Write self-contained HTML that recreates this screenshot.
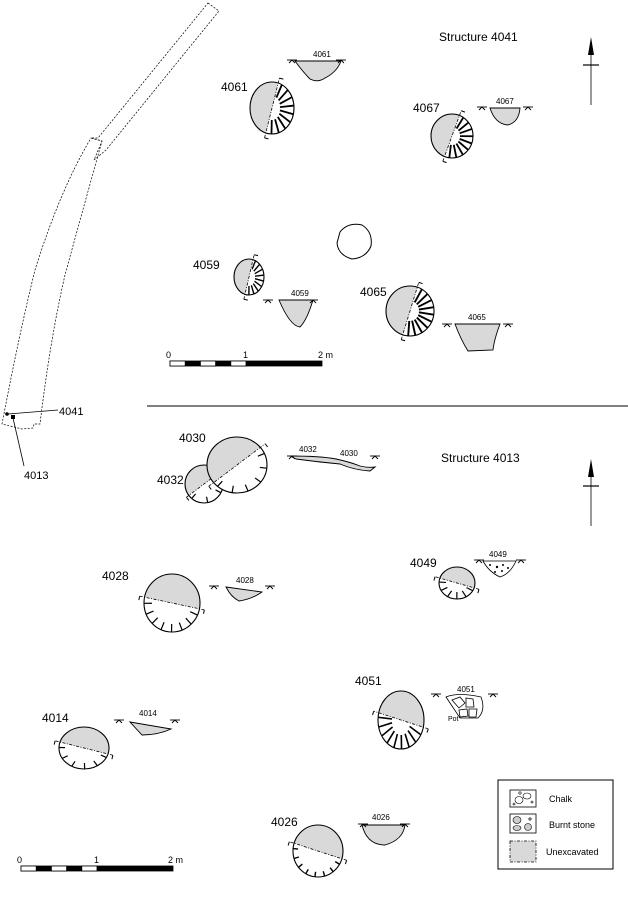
<!DOCTYPE html>
<html><head><meta charset="utf-8"><style>
html,body{margin:0;padding:0;background:#fff;}
svg{display:block;}
text{font-family:"Liberation Sans",Arial,sans-serif;fill:#000;}
</style></head><body>
<svg id="s" xmlns="http://www.w3.org/2000/svg" width="628" height="897" viewBox="0 0 628 897">
<rect width="628" height="897" fill="#fff"/>
<g fill="none" stroke="#000" stroke-width="0.7" stroke-dasharray="2,1.5">
<path d="M208,3 L219,11 L106,150 L94,160 L102,141 L91,138 L98,138 Z"/>
<path d="M91,138 L102,141 Q80,220 65,275 Q50,340 40,424 L34,424 L33,428 L22,429 L2,424 Q20,330 35,270 Q60,190 91,138 Z"/>
</g>
<circle cx="7" cy="414" r="1.8" fill="#000"/>
<rect x="11" y="415" width="4" height="4" fill="#000"/>
<line x1="8" y1="414" x2="58" y2="410" stroke="#000" stroke-width="0.8"/>
<line x1="13" y1="418" x2="24" y2="466" stroke="#000" stroke-width="0.8"/>
<text x="59" y="415" font-size="11">4041</text>
<text x="24" y="479" font-size="11">4013</text>

<text x="439" y="41" font-size="12">Structure 4041</text>
<text x="441" y="462" font-size="12">Structure 4013</text>
<line x1="147" y1="406" x2="628" y2="406" stroke="#000" stroke-width="1"/>

<g stroke="#555" stroke-width="1.2">
<line x1="591" y1="55" x2="591" y2="105"/><line x1="583" y1="65" x2="599" y2="65" stroke="#000"/>
<line x1="591" y1="475" x2="591" y2="526"/><line x1="583" y1="486" x2="599" y2="486" stroke="#000"/>
</g>
<path d="M591,37 L594,55 L588,55 Z" fill="#000"/>
<path d="M591,459 L594,477 L588,477 Z" fill="#000"/>

<g stroke="#000" stroke-width="0.8">
<rect x="170" y="361" width="152" height="5" fill="#000"/>
<rect x="170" y="361" width="15.2" height="5" fill="#fff"/>
<rect x="200.4" y="361" width="15.2" height="5" fill="#fff"/>
<rect x="230.8" y="361" width="15.2" height="5" fill="#fff"/>
<rect x="21" y="866" width="152" height="5" fill="#000"/>
<rect x="21" y="866" width="15.2" height="5" fill="#fff"/>
<rect x="51.4" y="866" width="15.2" height="5" fill="#fff"/>
<rect x="81.8" y="866" width="15.2" height="5" fill="#fff"/>
</g>
<text x="166" y="358" font-size="9">0</text><text x="243" y="358" font-size="9">1</text><text x="318" y="358" font-size="9">2 m</text>
<text x="17" y="863" font-size="9">0</text><text x="94" y="863" font-size="9">1</text><text x="168" y="863" font-size="9">2 m</text>

<path d="M340,232 Q348,222 362,225 Q373,232 371,246 Q366,258 352,259 Q338,255 337,243 Z" fill="#fff" stroke="#000" stroke-width="1"/>

<g stroke="#000" stroke-width="0.9" fill="#d9d9d9">
<path d="M295,61 L341,61 Q337,72 325,78 Q318,83 310,79 Q303,72 295,61 Z"/>
<path d="M490,108 L520,108 Q519,122 508,125 Q495,124 490,108 Z"/>
<path d="M279,300 L313,300 Q307,320 300,327 Q290,326 279,300 Z"/>
<path d="M455,324 L500,324 Q494,340 493,350 L468,351 Q461,340 455,324 Z"/>
<path d="M290,456 Q320,456 336,459 Q350,462 360,466 Q368,468 375,467 L370,471 Q354,470 340,464 Q318,462 296,459 Z"/>
<path d="M226,587 L262,592 Q252,599 239,601 Q231,597 226,587 Z"/>
<path d="M130,722 L171,729 Q158,735 142,735 Z"/>
<path d="M362,825 L405,825 Q403,840 385,845 Q367,845 362,825 Z"/>
</g>
<g stroke="#000" stroke-width="0.8" fill="#fff">
<path d="M483,561 L516,561 Q510,574 500,577 Q489,572 483,561 Z"/>
<path d="M446,697 Q458,692 481,697 Q486,710 478,718 L460,718 Z"/>
<path d="M452,700 l8,-3 l5,6 l-6,5 Z M466,698 l7,1 l1,8 l-8,0 Z M459,710 l8,-1 l1,7 l-8,1 Z M469,709 l8,0 l-1,8 l-7,0 Z"/>
</g>
<g fill="#000"><circle cx="490" cy="565" r="1"/><circle cx="497" cy="567" r="1.2"/><circle cx="503" cy="565" r="1"/><circle cx="508" cy="568" r="1"/><circle cx="495" cy="572" r="1"/><circle cx="502" cy="571" r="1"/></g>
<g stroke="#000" stroke-width="0.9" fill="none" id="gm"></g>
<g font-size="8">
<text x="313" y="57">4061</text><text x="496" y="104">4067</text><text x="291" y="296">4059</text><text x="468" y="320">4065</text>
<text x="299" y="452">4032</text><text x="340" y="456">4030</text><text x="236" y="583">4028</text><text x="489" y="557">4049</text>
<text x="457" y="692">4051</text><text x="448" y="721" font-size="7">Pot</text><text x="139" y="716">4014</text><text x="372" y="820">4026</text>
</g>
<g font-size="12">
<text x="221" y="91">4061</text><text x="413" y="112">4067</text><text x="193" y="269">4059</text><text x="360" y="296">4065</text>
<text x="179" y="442">4030</text><text x="157" y="484">4032</text><text x="102" y="580">4028</text><text x="410" y="567">4049</text>
<text x="355" y="685">4051</text><text x="42" y="722">4014</text><text x="271" y="826">4026</text>
</g>
<g id="pits"></g>

<rect x="498" y="780" width="115" height="89" fill="#fff" stroke="#000" stroke-width="1"/>
<rect x="510" y="790" width="26" height="17" fill="#fff" stroke="#000" stroke-width="0.8"/>
<g fill="none" stroke="#000" stroke-width="0.6"><ellipse cx="519" cy="800" rx="4" ry="3.5"/><ellipse cx="527" cy="796" rx="4" ry="3"/><circle cx="520" cy="793" r="1.2"/><circle cx="514" cy="804" r="1"/><circle cx="532" cy="802" r="1"/></g>
<rect x="510" y="814" width="26" height="19" fill="#fff" stroke="#000" stroke-width="0.8"/>
<g fill="#ccc" stroke="#000" stroke-width="0.6"><ellipse cx="517" cy="820" rx="4" ry="3.5"/><ellipse cx="517" cy="828" rx="4" ry="2.5"/><ellipse cx="528" cy="827" rx="3.5" ry="3.5"/><circle cx="530" cy="819" r="1.2"/></g>
<rect x="510" y="841" width="26" height="21" fill="#d9d9d9" stroke="#000" stroke-width="0.8" stroke-dasharray="3,1.5,1,1.5"/>
<text x="549" y="802" font-size="9">Chalk</text><text x="549" y="828" font-size="9">Burnt stone</text><text x="546" y="855" font-size="9">Unexcavated</text>
</svg>
<script>
var NS="http://www.w3.org/2000/svg";
function el(p,n,a){var e=document.createElementNS(NS,n);for(var k in a)e.setAttribute(k,a[k]);p.appendChild(e);return e;}
var gm=document.getElementById("gm");
function ground(x1,x2,y){[x1,x2].forEach(function(x){el(gm,"line",{x1:x-5,y1:y,x2:x+5,y2:y});el(gm,"path",{d:"M"+(x-3)+","+(y+3)+" L"+x+","+y+" L"+(x+3)+","+(y+3)});});}
ground(292,341,60);ground(482,528,107);ground(268,313,300);ground(447,508,324);
ground(292,375,456);ground(214,270,586);ground(479,521,560);ground(436,493,694);
ground(119,175,720);ground(363,405,824);
var pg=document.getElementById("pits"),cid=0;
function pit(cx,cy,rx,ry,a,s,n,len,tw,ext){
 var r=a*Math.PI/180,ux=Math.cos(r),uy=Math.sin(r),gx=-uy*s,gy=ux*s;
 var g=el(pg,"g",{});
 var id="c"+(cid++);
 var cp=el(g,"clipPath",{id:id});
 var P=function(x,y){return x.toFixed(1)+","+y.toFixed(1);};
 el(cp,"polygon",{points:[P(cx+ux*200,cy+uy*200),P(cx-ux*200,cy-uy*200),P(cx-ux*200+gx*200,cy-uy*200+gy*200),P(cx+ux*200+gx*200,cy+uy*200+gy*200)].join(" ")});
 el(g,"ellipse",{cx:cx,cy:cy,rx:rx,ry:ry,fill:"#fff",stroke:"none"});
 el(g,"ellipse",{cx:cx,cy:cy,rx:rx,ry:ry,fill:"#d9d9d9","clip-path":"url(#"+id+")"});
 var wa=Math.atan2(-gy,-gx);
 for(var i=0;i<n;i++){var t=wa-1.35+2.7*i/(n-1);var ex=cx+rx*Math.cos(t),ey=cy+ry*Math.sin(t);var dx=cx-ex,dy=cy-ey,d=Math.hypot(dx,dy);
  el(g,"line",{x1:ex,y1:ey,x2:ex+dx/d*len,y2:ey+dy/d*len,stroke:"#000","stroke-width":tw});}
 el(g,"ellipse",{cx:cx,cy:cy,rx:rx,ry:ry,fill:"none",stroke:"#000","stroke-width":1.1});
 var L=Math.hypot(rx*ux,ry*uy)+ext;
 var x1=cx+ux*L,y1=cy+uy*L,x2=cx-ux*L,y2=cy-uy*L;
 el(g,"line",{x1:x1,y1:y1,x2:x2,y2:y2,stroke:"#000","stroke-width":0.8,"stroke-dasharray":"3,1.5,1,1.5"});
 [[x1,y1],[x2,y2]].forEach(function(p){el(g,"line",{x1:p[0],y1:p[1],x2:p[0]-gx*4,y2:p[1]-gy*4,stroke:"#000","stroke-width":1});});
}
pit(272,108,22,26,104,1,9,14,1.8,5);
pit(452,136,21,22,110,1,9,13,1.8,5);
pit(249,277,15,18,103,1,9,9,1.4,5);
pit(410,311,24,25,107,1,10,15,1.9,5);
pit(204,484,19,19,143,1,4,6,1.2,3);
pit(237,465,30,28,143,1,6,7,1.2,6);
pit(172,603,28,29,12,-1,8,8,1.2,5);
pit(457,583,18,16,16,-1,6,7,1.2,5);
pit(401,720,23,29,18,-1,9,14,1.6,5);
pit(84,748,25,21,14,-1,6,6,1.2,5);
pit(318,851,25,26,18,-1,8,5,1.4,5);
</script>
</body></html>
